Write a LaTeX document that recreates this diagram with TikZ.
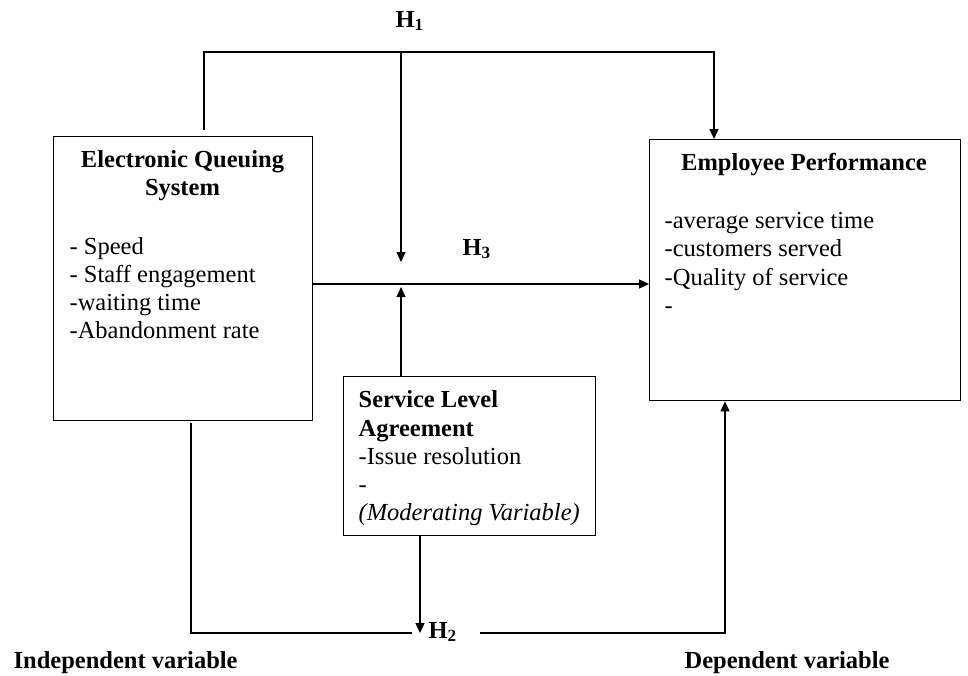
\documentclass[tikz,border=0pt]{standalone}
\usepackage{fontspec}
\setmainfont{Liberation Serif}
\usetikzlibrary{arrows.meta}
\begin{document}
\begin{tikzpicture}[x=1pt,y=-1pt, line width=1.3pt,
  box/.style={draw, rectangle, inner sep=0pt, anchor=north west},
  arr/.style={-{Triangle[length=10pt,width=9pt]}},
  txt/.style={anchor=base west, inner sep=0pt, font=\fontsize{24.5}{29}\selectfont},
  ttl/.style={anchor=base, inner sep=0pt, font=\fontsize{24.5}{29}\selectfont\bfseries}]
\useasboundingbox (0,0) rectangle (968,675);

% boxes
\node[box, minimum width=259pt, minimum height=284pt] (eqs) at (53,136) {};
\node[box, minimum width=311pt, minimum height=261pt] (ep) at (649,139) {};
\node[box, minimum width=252pt, minimum height=159pt] (sla) at (343,376) {};

% EQS text
\node[ttl] (eqs1) at (182.5,167) {Electronic Queuing};
\node[ttl] (eqs2) at (182.5,195) {System};
\node[txt] (eqsa) at (69,254) {- Speed};
\node[txt] (eqsb) at (69,282) {- Staff engagement};
\node[txt] (eqsc) at (69,310) {-waiting time};
\node[txt] (eqsd) at (69,338) {-Abandonment rate};

% EP text
\node[ttl] (ep1) at (804,170) {Employee Performance};
\node[txt] (epa) at (664,228) {-average service time};
\node[txt] (epb) at (664,256) {-customers served};
\node[txt] (epc) at (664,285) {-Quality of service};
\node[txt] (epd) at (664,313) {-};

% SLA text
\node[txt, font=\fontsize{24.5}{29}\selectfont\bfseries] (sla1) at (358,407) {Service Level};
\node[txt, font=\fontsize{24.5}{29}\selectfont\bfseries] (sla2) at (358,436) {Agreement};
\node[txt] (sla3) at (358,464) {-Issue resolution};
\node[txt] (sla4) at (358,492) {-};
\node[txt] (sla5) at (358,520) {\itshape (Moderating Variable)};

% hypothesis labels
\node[txt, font=\fontsize{24.5}{29}\selectfont\bfseries] (h1) at (395,27) {H\textsubscript{1}};
\node[txt, font=\fontsize{24.5}{29}\selectfont\bfseries] (h3) at (462,255) {H\textsubscript{3}};
\node[txt, font=\fontsize{24.5}{29}\selectfont\bfseries] (h2) at (428,638) {H\textsubscript{2}};

% variable labels
\node[txt, font=\fontsize{24.5}{29}\selectfont\bfseries] (iv) at (13,668) {Independent variable};
\node[txt, font=\fontsize{24.5}{29}\selectfont\bfseries] (dv) at (684,668) {Dependent variable};

% coordinates
\coordinate (eqtop) at (204,130);
\coordinate (c1) at (204,52);
\coordinate (c2) at (714,52);
\coordinate (mtop) at (401,52);
\coordinate (mtip) at (401,262);
\coordinate (h3y) at (0,284);
\coordinate (slaup) at (401,287);
\coordinate (b1) at (191,423);
\coordinate (b2) at (191,633);
\coordinate (b3) at (412,633);
\coordinate (sdown) at (420,633);
\coordinate (b4) at (480,633);
\coordinate (b5) at (725,633);

% connectors
\draw[arr] (eqtop) -- (c1) -- (c2) -- (ep.north -| c2);
\draw[arr] (mtop) -- (mtip);
\draw[arr] (eqs.east |- h3y) -- (ep.west |- h3y);
\draw[arr] (sla.north -| slaup) -- (slaup);
\draw[arr] (sla.south -| sdown) -- (sdown);
\draw (b1) -- (b2) -- (b3);
\draw[arr] (b4) -- (b5) -- (ep.south -| b5);
\end{tikzpicture}
\end{document}
